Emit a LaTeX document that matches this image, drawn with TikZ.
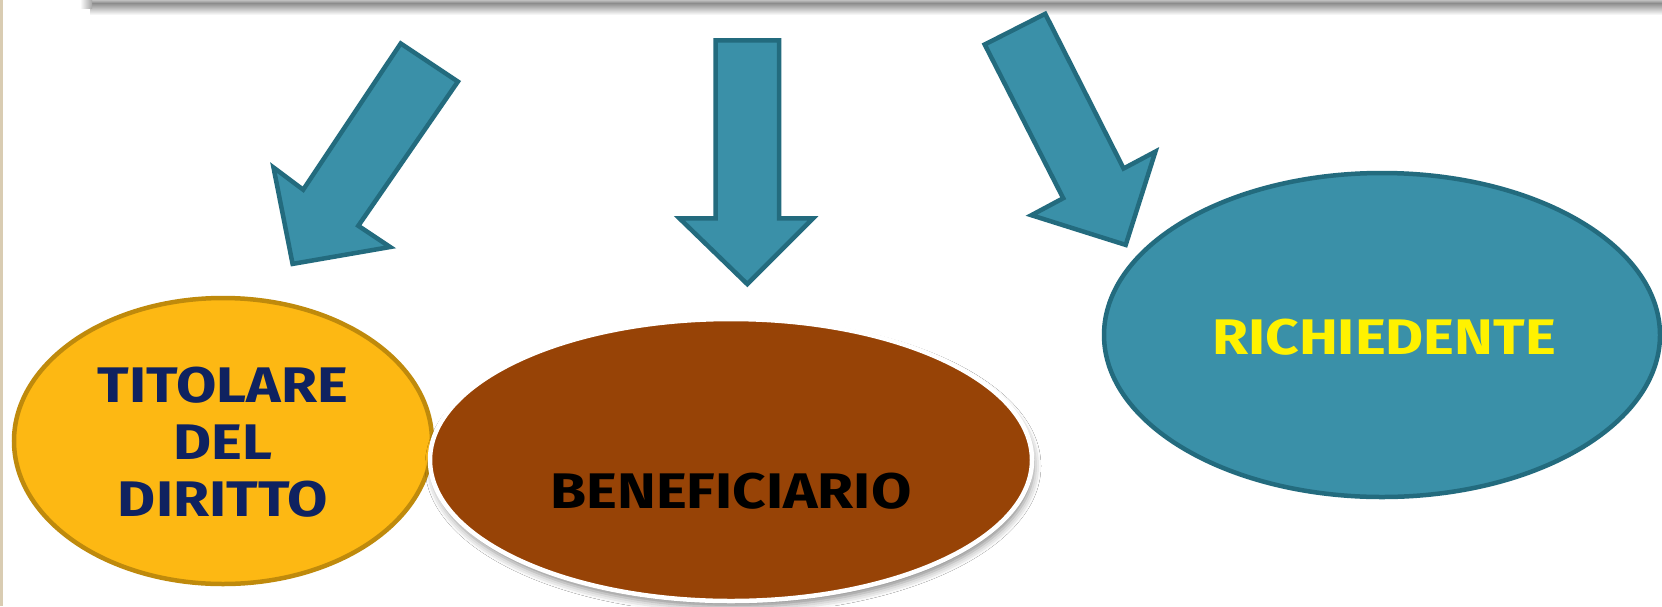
\documentclass[tikz,border=0pt]{standalone}
\usepackage{fontspec}
\setmainfont{Fira Sans}[FakeStretch=1.17]
\usetikzlibrary{shapes.geometric,shadows.blur}
\definecolor{tealfill}{HTML}{3A90A8}
\definecolor{tealline}{HTML}{236B7E}
\definecolor{goldfill}{HTML}{FDB813}
\definecolor{goldline}{HTML}{BF8A0C}
\definecolor{brownfill}{HTML}{974306}
\definecolor{navytext}{HTML}{0F2260}
\definecolor{edgebeige}{HTML}{D9CCB2}
\tikzset{
  blockarrow/.style={fill=tealfill,draw=tealline,line width=4.5pt,line join=miter},
  oval/.style={ellipse,inner sep=0pt},
  label/.style={font=\fontsize{50}{57}\selectfont\bfseries,align=center,inner sep=0pt}
}
\begin{document}
\begin{tikzpicture}[x=1pt,y=-1pt]
\useasboundingbox (0,0) rectangle (1662,606);
\fill[white] (0,0) rectangle (1662,606);
% top bar shadow
\shade[top color=black!45, bottom color=white] (90,3) rectangle (1662,15);
\shade[top color=black!25, bottom color=black!45] (90,0) rectangle (1662,3);
\shade[left color=white, right color=black!35] (80,0) rectangle (92,8);
% left edge strip
\fill[edgebeige] (0,0) rectangle (3,606);
% arrows
\path[blockarrow] (400.7,43.5) -- (457.9,81.6) -- (358.3,225.8) -- (390.1,247) -- (292.6,263.9) -- (273.5,167.5) -- (303.2,189.7) -- cycle;
\path[blockarrow] (715.5,40.3) -- (779.1,40.3) -- (779.1,218.4) -- (813,218.4) -- (747.3,284.1) -- (679.5,218.4) -- (715.5,218.4) -- cycle;
\path[blockarrow] (984.7,44.5) -- (1045.2,13.8) -- (1123.6,168.5) -- (1155.4,151.6) -- (1125.7,244.9) -- (1031.4,215.2) -- (1063.2,198.2) -- cycle;
% ellipses
\node[oval,fill=goldfill,draw=goldline,line width=4.5pt,minimum width=418pt,minimum height=286pt] (tit) at (223,441) {};
\node[oval,fill=brownfill,draw=white,line width=4.5pt,minimum width=602pt,minimum height=282pt,
  blur shadow={shadow xshift=2pt,shadow yshift=-6pt,shadow blur radius=7pt,shadow opacity=45}] (ben) at (731,460) {};
\node[oval,fill=tealfill,draw=tealline,line width=4.5pt,minimum width=556pt,minimum height=324pt] (ric) at (1382,335) {};
% texts
\node[label,text=navytext] (tittxt) at (223,442) {TITOLARE\\DEL\\DIRITTO};
\node[label,text=black] (bentxt) at (731,491) {BENEFICIARIO};
\node[label,text=yellow] (rictxt) at (1384,337) {RICHIEDENTE};
\end{tikzpicture}
\end{document}
